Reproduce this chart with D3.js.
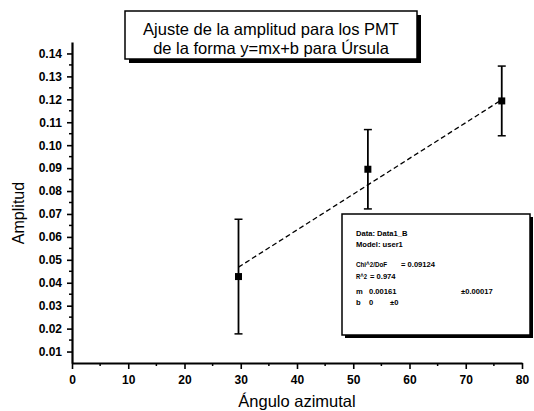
<!DOCTYPE html>
<html>
<head>
<meta charset="utf-8">
<script src="https://cdn.jsdelivr.net/npm/d3@7"></script>
<style>
  body { margin: 0; background: #fff; }
  svg { font-family: "Liberation Sans", Arial, sans-serif; }
</style>
</head>
<body>
<div id="chart"></div>
<script>
// data
var angles = [29.6, 52.6, 76.4];
var amplitudes = [0.0427, 0.0895, 0.1193];
var errors = [0.0250, 0.0173, 0.0152];

// fitted line endpoints (as drawn)
var fitX = [29.6, 76.4];
var fitY = [0.0468, 0.1198];

var xTicks = [0, 10, 20, 30, 40, 50, 60, 70, 80];
var yTicks = [0.01, 0.02, 0.03, 0.04, 0.05, 0.06, 0.07, 0.08, 0.09, 0.10, 0.11, 0.12, 0.13, 0.14];

var titleLines = ["Ajuste de la amplitud para los PMT", "de la forma y=mx+b para Úrsula"];

var statsLabels = ["Data: Data1_B", "Model: user1", "Chi^2/DoF", "= 0.09124", "R^2", "= 0.974",
  "m", "0.00161", "±0.00017", "b", "0", "±0"];

var svgWidth = 534;
var svgHeight = 411;

var margin = { top: 42, right: 12, bottom: 48, left: 72 };
var width = 522 - margin.left;
var height = 363 - margin.top;

var svg = d3.select("#chart")
  .append("svg")
  .attr("width", svgWidth)
  .attr("height", svgHeight);

var chartGroup = svg.append("g")
  .attr("transform", `translate(${margin.left}, ${margin.top})`);

var xScale = d3.scaleLinear().domain([0, 80]).range([0, width]);
var yScale = d3.scaleLinear().domain([0.005, 0.145]).range([height, 0]);

// minor ticks
var xMinor = d3.range(5, 80, 10);
var yMinor = d3.range(0.015, 0.145, 0.01);

chartGroup.selectAll(".xminor")
  .data(xMinor)
  .enter()
  .append("line")
  .attr("x1", d => xScale(d))
  .attr("x2", d => xScale(d))
  .attr("y1", height)
  .attr("y2", height + 3)
  .attr("stroke", "#000")
  .attr("stroke-width", 1.5);

chartGroup.selectAll(".yminor")
  .data(yMinor)
  .enter()
  .append("line")
  .attr("x1", 0)
  .attr("x2", -3)
  .attr("y1", d => yScale(d))
  .attr("y2", d => yScale(d))
  .attr("stroke", "#000")
  .attr("stroke-width", 1.5);

var bottomAxis = d3.axisBottom(xScale)
  .tickValues(xTicks)
  .tickFormat(d3.format("d"))
  .tickSizeInner(6)
  .tickSizeOuter(0)
  .tickPadding(6);

var leftAxis = d3.axisLeft(yScale)
  .tickValues(yTicks)
  .tickFormat(d3.format(".2f"))
  .tickSizeInner(5)
  .tickSizeOuter(0)
  .tickPadding(5);

var xAxis = chartGroup.append("g")
  .attr("transform", `translate(0, ${height})`)
  .call(bottomAxis);

var yAxis = chartGroup.append("g")
  .call(leftAxis);

[xAxis, yAxis].forEach(function(ax) {
  ax.select(".domain").attr("stroke-width", 2.2);
  ax.selectAll(".tick line").attr("stroke-width", 1.6);
  ax.selectAll(".tick text")
    .attr("font-family", "Liberation Sans, Arial, sans-serif")
    .attr("font-size", "12px")
    .attr("font-weight", "bold")
    .attr("fill", "#000");
});

// axis titles
svg.append("text")
  .attr("x", 297)
  .attr("y", 407)
  .attr("text-anchor", "middle")
  .attr("font-size", "16.5px")
  .text("Ángulo azimutal");

svg.append("text")
  .attr("transform", "rotate(-90)")
  .attr("x", -213)
  .attr("y", 24)
  .attr("text-anchor", "middle")
  .attr("font-size", "16px")
  .text("Amplitud");

// fit line
chartGroup.append("line")
  .attr("x1", xScale(fitX[0]))
  .attr("y1", yScale(fitY[0]))
  .attr("x2", xScale(fitX[1]))
  .attr("y2", yScale(fitY[1]))
  .attr("stroke", "#000")
  .attr("stroke-width", 1.3)
  .attr("stroke-dasharray", "5,3");

// error bars
var points = angles.map(function(a, i) {
  return { x: a, y: amplitudes[i], e: errors[i] };
});

var bars = chartGroup.selectAll(".err")
  .data(points)
  .enter()
  .append("g");

bars.append("line")
  .attr("x1", d => xScale(d.x))
  .attr("x2", d => xScale(d.x))
  .attr("y1", d => yScale(d.y - d.e))
  .attr("y2", d => yScale(d.y + d.e))
  .attr("stroke", "#000")
  .attr("stroke-width", 1.8);

bars.selectAll(".cap")
  .data(d => [[d.x, d.y - d.e], [d.x, d.y + d.e]])
  .enter()
  .append("line")
  .attr("x1", d => xScale(d[0]) - 4)
  .attr("x2", d => xScale(d[0]) + 4)
  .attr("y1", d => yScale(d[1]))
  .attr("y2", d => yScale(d[1]))
  .attr("stroke", "#000")
  .attr("stroke-width", 1.5);

bars.append("rect")
  .attr("x", d => xScale(d.x) - 3.5)
  .attr("y", d => yScale(d.y) - 3.5)
  .attr("width", 7)
  .attr("height", 7)
  .attr("fill", "#000");

// title box with shadow
var tb = { x: 125, y: 11, w: 292, h: 48 };
svg.append("rect")
  .attr("x", tb.x + 4).attr("y", tb.y + 4)
  .attr("width", tb.w).attr("height", tb.h)
  .attr("fill", "#000");
svg.append("rect")
  .attr("x", tb.x).attr("y", tb.y)
  .attr("width", tb.w).attr("height", tb.h)
  .attr("fill", "#fff")
  .attr("stroke", "#000")
  .attr("stroke-width", 1.5);

svg.selectAll(".title")
  .data(titleLines)
  .enter()
  .append("text")
  .attr("x", tb.x + tb.w / 2)
  .attr("y", (d, i) => 35 + i * 19)
  .attr("text-anchor", "middle")
  .attr("font-size", "16.5px")
  .text(d => d);

// stats box
var sb = { x: 342, y: 214, w: 188, h: 121 };
svg.append("rect")
  .attr("x", sb.x + 3).attr("y", sb.y + 3)
  .attr("width", sb.w).attr("height", sb.h)
  .attr("fill", "#000");
svg.append("rect")
  .attr("x", sb.x).attr("y", sb.y)
  .attr("width", sb.w).attr("height", sb.h)
  .attr("fill", "#fff")
  .attr("stroke", "#000")
  .attr("stroke-width", 1.5);

// x, baseline y and (optional) squeezed width for each stats label
var statsLayout = [
  [356, 236], [356, 247],
  [356, 267, 31], [401, 267],
  [356, 279, 11], [370, 279],
  [356, 294], [369, 294], [461, 294],
  [356, 305], [369, 305], [390, 305]
];

svg.selectAll(".stat")
  .data(statsLabels)
  .enter()
  .append("text")
  .attr("x", (d, i) => statsLayout[i][0])
  .attr("y", (d, i) => statsLayout[i][1])
  .attr("textLength", (d, i) => statsLayout[i][2] || null)
  .attr("lengthAdjust", "spacingAndGlyphs")
  .attr("font-size", "7.6px")
  .attr("font-weight", "bold")
  .text(d => d);
</script>
</body>
</html>
